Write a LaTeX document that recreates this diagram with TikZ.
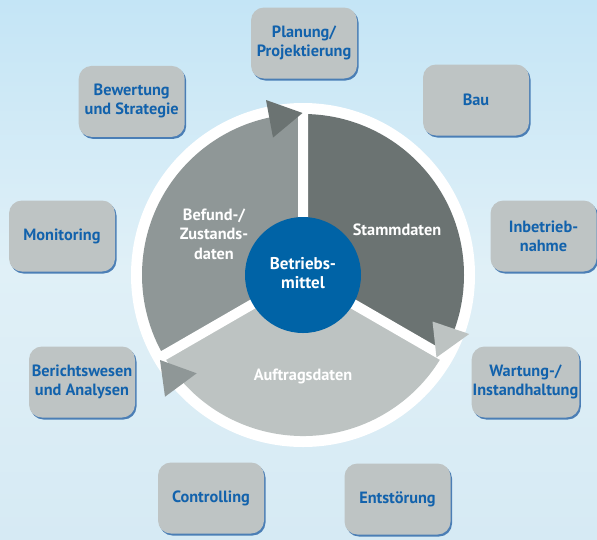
\documentclass[tikz,border=0pt]{standalone}
\usepackage{fontspec}
\setmainfont{PT Sans}
\usetikzlibrary{shadows}
\definecolor{bgtop}{RGB}{196,229,246}
\definecolor{bgmid}{RGB}{224,240,247}
\definecolor{bgbot}{RGB}{214,234,244}
\definecolor{boxgray}{RGB}{190,196,196}
\definecolor{boxblue}{RGB}{18,98,172}
\definecolor{shadowblue}{RGB}{60,115,175}
\definecolor{darkseg}{RGB}{107,115,114}
\definecolor{midseg}{RGB}{143,151,151}
\definecolor{lightseg}{RGB}{189,195,194}
\definecolor{hubblue}{RGB}{0,99,166}
\begin{document}
\begin{tikzpicture}[x=1pt,y=-1pt,
  box/.style={fill=boxgray, rounded corners=13pt, minimum width=106pt, minimum height=71pt,
    align=center, text=boxblue, font=\fontsize{16.3}{19}\selectfont\bfseries, inner sep=1pt,
    drop shadow={shadow xshift=1.5pt, shadow yshift=-2pt, fill=shadowblue, opacity=0.9}},
  seglabel/.style={align=center, text=white, font=\fontsize{16.3}{19.5}\selectfont\bfseries},
  hublabel/.style={align=center, text=white, font=\fontsize{17}{19}\selectfont\bfseries}]
\useasboundingbox (0,0) rectangle (597,539);
\shade[top color=bgtop, bottom color=bgbot, middle color=bgmid] (0,0) rectangle (597,539);

% wheel
\begin{scope}[shift={(303,275)}, y=1pt]
  \fill[white] (0,0) circle (172);
  \fill[darkseg] (0,0) -- (90:161) arc (90:-30:161) -- cycle;
  \fill[midseg] (0,0) -- (90:161) arc (90:210:161) -- cycle;
  \fill[lightseg] (0,0) -- (210:161) arc (210:330:161) -- cycle;
  \draw[white, line width=10pt] (0,0) -- (90:166) (0,0) -- (210:166) (0,0) -- (330:166);
  \fill[hubblue] (0,0) circle (58);
\end{scope}

% arrowheads
\fill[darkseg] (266,100) -- (302.5,113) -- (273,137.6) -- cycle;
\fill[lightseg] (432.5,321.5) -- (469.2,334) -- (436.5,357.4) -- cycle;
\fill[midseg] (160,360) -- (196.7,373.3) -- (165,396.7) -- cycle;

% labels in wheel
\node[hublabel] (hub) at (303,273) {Betriebs-\\mittel};
\node[seglabel] (stamm) at (397,230) {Stammdaten};
\node[seglabel] (befund) at (214,234) {Befund-/\\Zustands-\\daten};
\node[seglabel] (auftrag) at (303,376) {Auftragsdaten};

% boxes
\node[box] (planung) at (304,43) {Planung/\\Projektierung};
\node[box] (bau) at (476,100) {Bau};
\node[box] (inbetrieb) at (543.5,236) {Inbetrieb-\\nahme};
\node[box] (wartung) at (525.5,382) {Wartung-/\\Instandhaltung};
\node[box] (entstoerung) at (397.5,499) {Entstörung};
\node[box] (controlling) at (211,498) {Controlling};
\node[box] (bericht) at (82,382) {Berichtswesen\\und Analysen};
\node[box] (monitoring) at (62,236) {Monitoring};
\node[box] (bewertung) at (131.7,101.4) {Bewertung\\und Strategie};
\end{tikzpicture}
\end{document}
